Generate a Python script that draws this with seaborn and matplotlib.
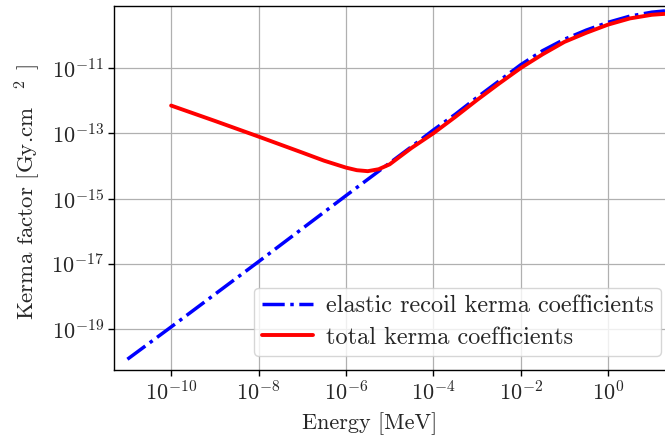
import numpy as np
import pandas as pd
import matplotlib
matplotlib.use("Agg")
import matplotlib.pyplot as plt
import seaborn as sns

# ---- data ----
energy_elastic = [1e-11, 1e-10, 1e-9, 1e-8, 1e-7, 1e-6, 1e-5, 3.16e-5, 1e-4, 3.16e-4,
                  1e-3, 3.16e-3, 1e-2, 3.16e-2, 0.1, 0.316, 1.0, 3.16, 10.0, 20.0]
kerma_elastic = [1.20e-20, 1.17e-19, 1.17e-18, 1.17e-17, 1.20e-16, 1.23e-15, 1.23e-14,
                 3.89e-14, 1.26e-13, 3.80e-13, 1.26e-12, 3.98e-12, 1.26e-11, 3.39e-11,
                 7.59e-11, 1.45e-10, 2.51e-10, 3.89e-10, 5.13e-10, 5.62e-10]

energy_total = [1e-10, 1e-9, 1e-8, 1e-7, 3.16e-7, 1e-6, 1.78e-6, 3.16e-6, 5.62e-6, 1e-5,
                1.78e-5, 3.16e-5, 1e-4, 3.16e-4, 1e-3, 3.16e-3, 1e-2, 3.16e-2, 0.1,
                0.316, 1.0, 3.16, 10.0, 20.0]
kerma_total = [7.08e-13, 2.40e-13, 7.94e-14, 2.57e-14, 1.45e-14, 8.91e-15, 7.41e-15,
               6.92e-15, 7.94e-15, 1.12e-14, 2.00e-14, 3.55e-14, 1.00e-13, 3.16e-13,
               1.05e-12, 3.31e-12, 1.00e-11, 2.63e-11, 6.31e-11, 1.20e-10, 2.14e-10,
               3.31e-10, 4.27e-10, 4.57e-10]

label_elastic = "elastic recoil kerma coefficients"
label_total = "total kerma coefficients"
xtick_values = [1e-10, 1e-8, 1e-6, 1e-4, 1e-2, 1e0]
ytick_values = [1e-19, 1e-17, 1e-15, 1e-13, 1e-11]

df_el = pd.DataFrame({"E": energy_elastic, "K": kerma_elastic})
df_tot = pd.DataFrame({"E": energy_total, "K": kerma_total})

sns.set_theme(style="ticks")
plt.rcParams["font.family"] = ["cmr10", "DejaVu Serif"]
plt.rcParams["mathtext.fontset"] = "cm"
plt.rcParams["axes.formatter.use_mathtext"] = True
plt.rcParams["axes.unicode_minus"] = False

fig = plt.figure(figsize=(6.65, 4.44), dpi=100)
ax = fig.add_axes([0.1719, 0.1667, 0.843, 0.8198])

sns.lineplot(data=df_el, x="E", y="K", ax=ax, color="blue", linestyle="-.",
             linewidth=2.5, label=label_elastic)
sns.lineplot(data=df_tot, x="E", y="K", ax=ax, color="red", linestyle="-",
             linewidth=2.8, label=label_total)

ax.set_xscale("log")
ax.set_yscale("log")
ax.set_xlim(10**-11.30, 10**1.528)
ax.set_ylim(10**-20.25, 10**-9.10)
ax.set_xticks(xtick_values)
ax.set_yticks(ytick_values)
ax.minorticks_off()
ax.grid(True, color="#b0b0b0", linewidth=0.9)
ax.set_axisbelow(True)

for s in ax.spines.values():
    s.set_color("black")
    s.set_linewidth(1.0)
ax.tick_params(axis="both", labelsize=16, length=4, width=1, color="black")

ax.set_xlabel("Energy [MeV]", fontsize=16)
ax.set_ylabel(r"Kerma factor [Gy.cm  $^{\,2\,}$ ]", fontsize=16.5)
ax.xaxis.set_label_coords(0.456, -0.115)
ax.yaxis.set_label_coords(-0.128, 0.49)

leg = ax.legend(loc="lower right", bbox_to_anchor=(0.975, 0.038), fontsize=17.5,
                frameon=True, fancybox=True, framealpha=0.8, edgecolor="#cccccc",
                handlelength=2.1, borderpad=0.3, labelspacing=0.4, handletextpad=0.55,
                borderaxespad=0.0)

fig.savefig("out.png", dpi=100)
